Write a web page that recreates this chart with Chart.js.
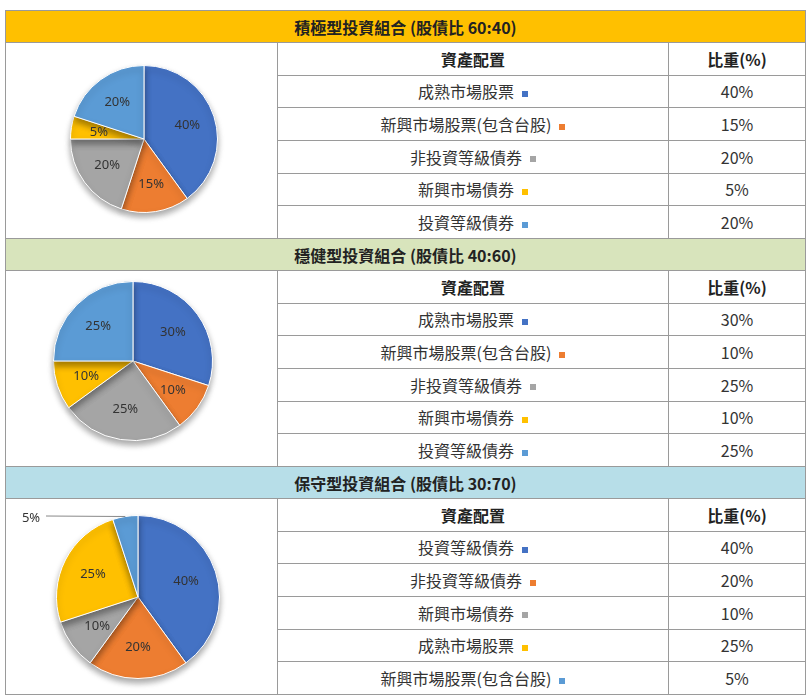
<!DOCTYPE html>
<html><head><meta charset="utf-8">
<script src="https://cdn.jsdelivr.net/npm/chart.js@4"></script>
<style>
body{margin:0;background:#fff;font-family:"Noto Sans CJK TC","Noto Sans",sans-serif;}
table{position:absolute;left:5px;top:10px;width:800px;border-collapse:collapse;table-layout:fixed;}
td{border:1px solid #9a9a9a;padding:0;height:31px;font-size:16px;color:#333;text-align:center;}
td.h{font-weight:bold;color:#222;}
td.pie{vertical-align:top;}
.mk{display:inline-block;width:6px;height:6px;margin-left:8px;vertical-align:middle;}
canvas{display:block;}
</style></head><body>
<table id="tbl"><colgroup><col style="width:272px"><col style="width:391px"><col style="width:137px"></colgroup></table>
<script>
// 組合資料
const titles = ['積極型投資組合 (股債比 60:40)', '穩健型投資組合 (股債比 40:60)', '保守型投資組合 (股債比 30:70)'];
const titleColors = ['#ffc000', '#d8e4bc', '#b7dee8'];
const assets1 = ['成熟市場股票', '新興市場股票(包含台股)', '非投資等級債券', '新興市場債券', '投資等級債券'];
const weights1 = [40, 15, 20, 5, 20];
const assets2 = ['成熟市場股票', '新興市場股票(包含台股)', '非投資等級債券', '新興市場債券', '投資等級債券'];
const weights2 = [30, 10, 25, 10, 25];
const assets3 = ['投資等級債券', '非投資等級債券', '新興市場債券', '成熟市場股票', '新興市場股票(包含台股)'];
const weights3 = [40, 20, 10, 25, 5];
const colors = ['#4472c4', '#ed7d31', '#a5a5a5', '#ffc000', '#5b9bd5'];

const groups = [[assets1, weights1], [assets2, weights2], [assets3, weights3]];
const pads = [
  { left: 64, right: 58, top: 22, bottom: 25 },
  { left: 47, right: 63, top: 10, bottom: 25 },
  { left: 50, right: 56, top: 16, bottom: 15 },
];

const tbl = document.getElementById('tbl');
let html = '';
groups.forEach(([assets, weights], g) => {
  html += `<tr><td colspan="3" class="h" style="background:${titleColors[g]}">${titles[g]}</td></tr>`;
  html += `<tr><td rowspan="6" class="pie"><canvas id="pie${g}" width="270" height="195"></canvas></td>`;
  html += `<td class="h">資產配置</td><td class="h">比重(%)</td></tr>`;
  assets.forEach((a, i) => {
    html += `<tr><td>${a}<span class="mk" style="background:${colors[i]}"></span></td><td>${weights[i]}%</td></tr>`;
  });
});
tbl.innerHTML += html;

// 陰影
const shadowPlugin = {
  id: 'shadow',
  beforeDatasetsDraw(chart) {
    const c = chart.ctx;
    c.save();
    c.shadowColor = 'rgba(0,0,0,0.35)';
    c.shadowBlur = 6;
    c.shadowOffsetY = 4;
  },
  afterDatasetsDraw(chart) { chart.ctx.restore(); },
};

// 百分比標籤
const labelPlugin = {
  id: 'pctLabels',
  afterDatasetsDraw(chart, args, opts) {
    const c = chart.ctx;
    const meta = chart.getDatasetMeta(0);
    c.save();
    c.font = '13px "Noto Sans", sans-serif';
    c.fillStyle = '#333';
    c.textAlign = 'center';
    c.textBaseline = 'middle';
    meta.data.forEach((arc, i) => {
      const v = chart.data.datasets[0].data[i] + '%';
      const { x, y, startAngle, endAngle, outerRadius } = arc.getProps(['x', 'y', 'startAngle', 'endAngle', 'outerRadius']);
      const mid = (startAngle + endAngle) / 2;
      if (opts.outside === i) {
        const ex = x + Math.cos(mid) * outerRadius, ey = y + Math.sin(mid) * outerRadius;
        c.strokeStyle = '#888';
        c.beginPath(); c.moveTo(ex, ey); c.lineTo(40, 17); c.stroke();
        c.fillText(v, 25, 19);
      } else {
        const r = outerRadius * 0.62;
        c.fillText(v, x + Math.cos(mid) * r, y + Math.sin(mid) * r);
      }
    });
    c.restore();
  },
};

groups.forEach(([assets, weights], g) => {
  new Chart(document.getElementById('pie' + g), {
    type: 'pie',
    data: { labels: assets, datasets: [{ data: weights, backgroundColor: colors, borderColor: '#fff', borderWidth: 1 }] },
    options: {
      responsive: false,
      animation: false,
      layout: { padding: pads[g] },
      plugins: { legend: { display: false }, tooltip: { enabled: false }, pctLabels: { outside: g === 2 ? 4 : -1 } },
    },
    plugins: [shadowPlugin, labelPlugin],
  });
});
</script>
</body></html>
